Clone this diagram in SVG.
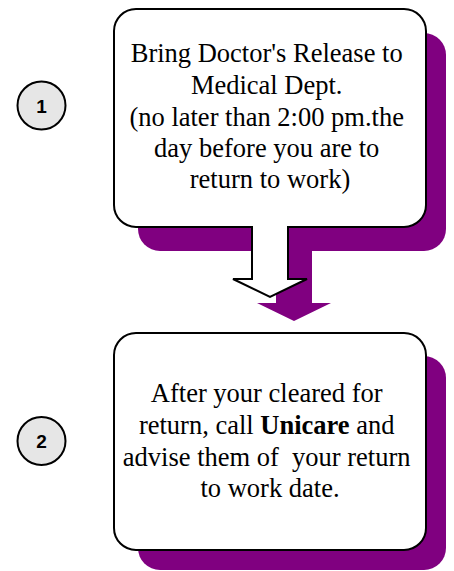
<svg xmlns="http://www.w3.org/2000/svg" width="454" height="571" viewBox="0 0 454 571">
<style>
.shadow{fill:#800080;stroke:none}
.box{fill:#ffffff;stroke:#000000;stroke-width:2}
.num{fill:#e6e6e6;stroke:#000000;stroke-width:2}
.numtxt{font-family:"Liberation Sans",Arial,sans-serif;font-weight:bold;font-size:19px;fill:#000;text-anchor:middle}
.txt{font-family:"Liberation Serif","Times New Roman",serif;font-size:26.5px;fill:#000;text-anchor:middle}
</style>
<rect width="454" height="571" fill="#ffffff"/>
<g id="step1-marker">
  <circle class="num" cx="41.5" cy="105.5" r="24"/>
  <text class="numtxt" x="41.5" y="112.5">1</text>
</g>
<g id="step2-marker">
  <circle class="num" cx="41.5" cy="441" r="24"/>
  <text class="numtxt" x="41.5" y="448">2</text>
</g>
<g id="step1">
  <rect class="shadow" x="138" y="33" width="308" height="218" rx="22"/>
  <rect class="box" x="114" y="9" width="312" height="218" rx="22"/>
  <text class="txt">
    <tspan x="270" y="62">Bring Doctor's Release to</tspan>
    <tspan x="270" y="94">Medical Dept.</tspan>
    <tspan x="270" y="126">(no later than 2:00 pm.the</tspan>
    <tspan x="270" y="157">day before you are to</tspan>
    <tspan x="270" y="188">return to work)</tspan>
  </text>
</g>
<g id="step2">
  <rect class="shadow" x="138" y="356" width="308" height="214" rx="22"/>
  <rect class="box" x="114" y="333" width="312" height="217" rx="22"/>
  <text class="txt">
    <tspan x="270" y="402">After your cleared for</tspan>
    <tspan x="270" y="434">return, call <tspan font-weight="bold">Unicare</tspan> and</tspan>
    <tspan x="270" y="466">advise them of&#160; your return</tspan>
    <tspan x="270" y="497">to work date.</tspan>
  </text>
</g>
<g id="connectors">
  <polygon class="shadow" points="276,248 312,248 312,303 331,303 294,321 257,303 276,303"/>
  <polygon fill="#ffffff" points="252,225 288,225 288,279 307,279 270,297 233,279 252,279"/>
  <polyline fill="none" stroke="#000" stroke-width="2" stroke-linejoin="miter" points="252,226 252,279 233,279 270,297 307,279 288,279 288,226"/>
</g>
</svg>
